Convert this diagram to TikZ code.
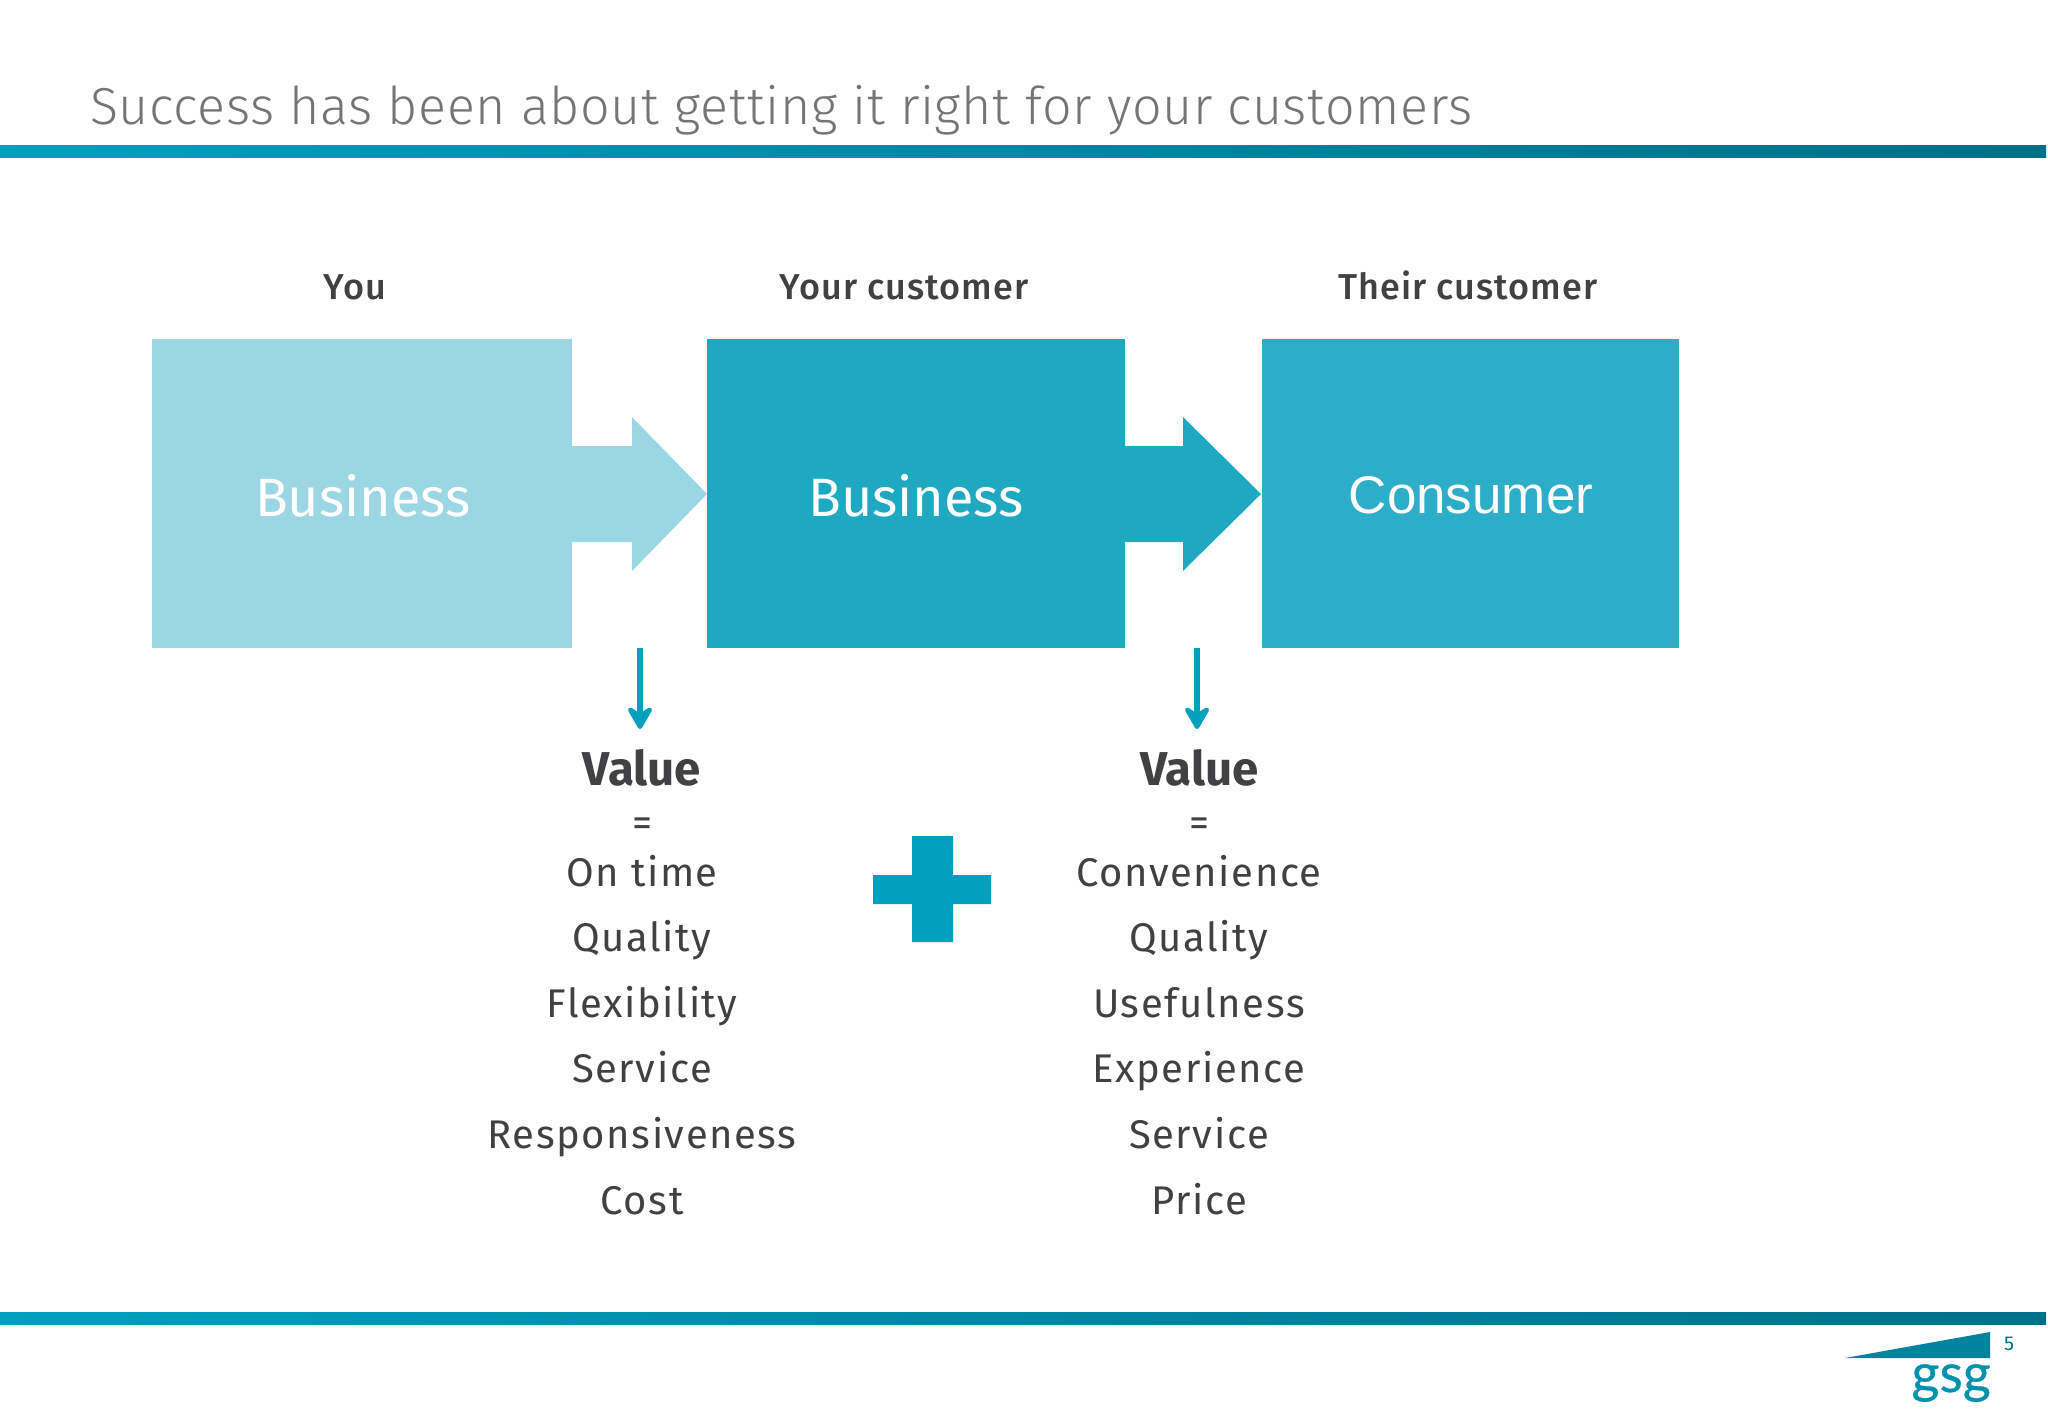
\documentclass[tikz,border=0pt]{standalone}
\usepackage{fontspec}
\setmainfont{Fira Sans}
\newfontfamily\lightf{Fira Sans Light}
\newfontfamily\medf{Fira Sans Medium}
\newfontfamily\arf{Liberation Sans}
\newfontfamily\logof[FakeBold=0.5]{Lato}
\usetikzlibrary{arrows.meta}
\definecolor{ink}{HTML}{414042}
\definecolor{ttl}{HTML}{757575}
\definecolor{b1}{HTML}{9AD6E4}
\definecolor{b2}{HTML}{1FA9C1}
\definecolor{b3}{HTML}{2EADC8}
\definecolor{accent}{HTML}{00A0BF}
\definecolor{darkbar}{HTML}{006F88}
\tikzset{
  x=1pt,y=-1pt,
  box/.style={anchor=north west,inner sep=0pt,outer sep=0pt,minimum height=308.5pt,text=white},
  head/.style={anchor=base,inner sep=0pt,text=ink,font=\medf\fontsize{36}{36}\selectfont\addfontfeatures{LetterSpace=3}},
  boxtext/.style={anchor=base,inner sep=0pt,text=white},
  val/.style={anchor=base,inner sep=0pt,text=ink,font=\bfseries\fontsize{47.5}{47.5}\selectfont},
  item/.style={anchor=base,inner sep=0pt,text=ink,font=\fontsize{40}{40}\selectfont\addfontfeatures{LetterSpace=4}},
  flow/.style={line width=5.5pt,draw=accent,-{Stealth[length=28pt,width=32pt,inset=10pt,round]}},
  rule/.style={left color=accent,middle color=accent,right color=darkbar}
}
\begin{document}
\begin{tikzpicture}
\useasboundingbox[fill=white] (0,0) rectangle (2048,1418);
% rules
\shade[rule] (0,146) rectangle (2046,158);
\shade[rule] (0,1312) rectangle (2046,1324);
% title
\node[anchor=base west,inner sep=0pt,text=ttl] (title) at (90,125) {\lightf\fontsize{52}{52}\selectfont\addfontfeatures{LetterSpace=1.2}Success has been about getting it right for your customers};
% block arrows
\fill[b1] (572,446) -- (632,446) -- (632,417) -- (707,494) -- (632,571) -- (632,542) -- (572,542) -- cycle;
\fill[b2] (1125,446) -- (1183,446) -- (1183,417) -- (1261,494) -- (1183,571) -- (1183,542) -- (1125,542) -- cycle;
% boxes
\node[box,fill=b1,minimum width=420pt] (you) at (152,339) {};
\node[box,fill=b2,minimum width=418pt] (cust) at (707,339) {};
\node[box,fill=b3,minimum width=417pt] (cons) at (1262,339) {};
\node[boxtext,font=\fontsize{54}{54}\selectfont] (t1) at (363,516) {Business};
\node[boxtext,font=\fontsize{54}{54}\selectfont] (t2) at (916,516) {Business};
\node[boxtext,font=\arf\fontsize{53}{53}\selectfont] (t3) at (1471,513) {Consumer};
% headers
\node[head] (h1) at (355,299) {You};
\node[head] (h2) at (904,299) {Your customer};
\node[head] (h3) at (1468,299) {Their customer};
% left column
\node[val] (v1) at (642,785) {Value};
\node[item] (e1) at (642,836) {=};
\node[item] (a1) at (642,886) {On time};
\node[item] (a2) at (642,951.5) {Quality};
\node[item] (a3) at (642,1017) {Flexibility};
\node[item] (a4) at (642,1082.5) {Service};
\node[item] (a5) at (642,1148) {Responsiveness};
\node[item] (a6) at (642,1214) {Cost};
% right column
\node[val] (v2) at (1199.5,785) {Value};
\node[item] (e2) at (1199,836) {=};
\node[item] (b1n) at (1199,886) {Convenience};
\node[item] (b2n) at (1199,951.5) {Quality};
\node[item] (b3n) at (1199,1017) {Usefulness};
\node[item] (b4n) at (1199,1082.5) {Experience};
\node[item] (b5n) at (1199,1148) {Service};
\node[item] (b6n) at (1199,1214) {Price};
% small arrows
\coordinate (s1) at (640,648); \coordinate (f1) at (640,729);
\coordinate (s2) at (1197,648); \coordinate (f2) at (1197,729);
\draw[flow] (s1) -- (f1);
\draw[flow] (s2) -- (f2);
% plus
\fill[accent] (912,836) -- (953,836) -- (953,875) -- (991,875) -- (991,904) -- (953,904) -- (953,942) -- (912,942) -- (912,904) -- (873,904) -- (873,875) -- (912,875) -- cycle;
% logo
\fill[darkbar!60!accent] (1845,1358) -- (1990,1332) -- (1990,1358) -- cycle;
\node[anchor=base east,inner sep=0pt,text=accent!70!darkbar,font=\logof\fontsize{54}{54}\selectfont] (gsg) at (1991,1392) {gsg};
\node[anchor=base,inner sep=0pt,text=darkbar,font=\fontsize{20}{20}\selectfont] (pg) at (2009,1350) {5};
\end{tikzpicture}
\end{document}
